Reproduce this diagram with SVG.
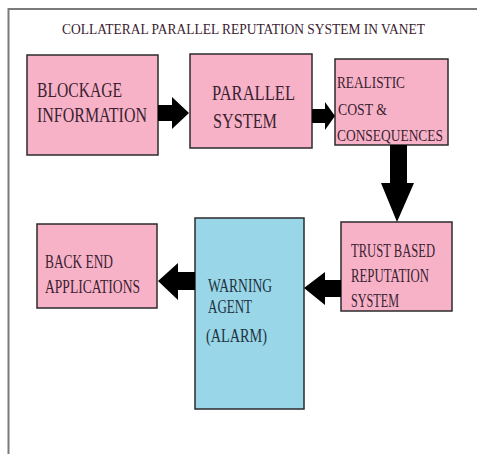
<svg xmlns="http://www.w3.org/2000/svg" width="477" height="454" viewBox="0 0 477 454">
<style>
.box{fill:#F8B2C8;stroke:#2b2b2b;stroke-width:1.5}
.blue{fill:#98D6E8;stroke:#2b2b2b;stroke-width:1.5}
.t{font-family:"Liberation Serif","Times New Roman",serif;fill:#3a2230}
.tb{font-family:"Liberation Serif","Times New Roman",serif;fill:#213340}
.arr{fill:#000}
</style>
<rect x="0" y="0" width="477" height="454" fill="#fff"/>
<path d="M8.5 454 V9 H477" fill="none" stroke="#7a7a7a" stroke-width="2"/>
<text class="t" x="62" y="34" font-size="15" textLength="363" lengthAdjust="spacingAndGlyphs" fill="#333">COLLATERAL PARALLEL REPUTATION SYSTEM IN VANET</text>
<g id="blockage">
<rect class="box" x="27" y="55" width="131" height="100"/>
<text class="t" x="37" y="97" font-size="21" textLength="85" lengthAdjust="spacingAndGlyphs">BLOCKAGE</text>
<text class="t" x="37" y="122" font-size="21" textLength="110" lengthAdjust="spacingAndGlyphs">INFORMATION</text>
</g>
<g id="parallel">
<rect class="box" x="190" y="54" width="122" height="94"/>
<text class="t" x="212" y="100" font-size="21" textLength="83" lengthAdjust="spacingAndGlyphs">PARALLEL</text>
<text class="t" x="213" y="128" font-size="21" textLength="64" lengthAdjust="spacingAndGlyphs">SYSTEM</text>
</g>
<g id="realistic">
<rect class="box" x="335" y="59" width="113" height="86"/>
<text class="t" x="337" y="88" font-size="17" textLength="68" lengthAdjust="spacingAndGlyphs">REALISTIC</text>
<text class="t" x="338" y="115" font-size="17" textLength="49" lengthAdjust="spacingAndGlyphs">COST &amp;</text>
<text class="t" x="337" y="141" font-size="17" textLength="106" lengthAdjust="spacingAndGlyphs">CONSEQUENCES</text>
</g>
<g id="trust">
<rect class="box" x="341" y="222" width="111" height="89"/>
<text class="t" x="351" y="257" font-size="18" textLength="84" lengthAdjust="spacingAndGlyphs">TRUST BASED</text>
<text class="t" x="351" y="282" font-size="18" textLength="78" lengthAdjust="spacingAndGlyphs">REPUTATION</text>
<text class="t" x="351" y="307" font-size="18" textLength="48" lengthAdjust="spacingAndGlyphs">SYSTEM</text>
</g>
<g id="warning">
<rect class="blue" x="195" y="218" width="109" height="191"/>
<text class="tb" x="208" y="292" font-size="19" textLength="64" lengthAdjust="spacingAndGlyphs">WARNING</text>
<text class="tb" x="208" y="313" font-size="19" textLength="44" lengthAdjust="spacingAndGlyphs">AGENT</text>
<text class="tb" x="206" y="342" font-size="19" textLength="61" lengthAdjust="spacingAndGlyphs">(ALARM)</text>
</g>
<g id="backend">
<rect class="box" x="37" y="224" width="120" height="84"/>
<text class="t" x="45" y="268" font-size="19" textLength="68" lengthAdjust="spacingAndGlyphs">BACK END</text>
<text class="t" x="45" y="293" font-size="19" textLength="95" lengthAdjust="spacingAndGlyphs">APPLICATIONS</text>
</g>
<g id="connectors">
<polygon class="arr" points="158,105 172,105 172,97 189,113 172,129 172,121 158,121"/>
<polygon class="arr" points="312,109 325,109 325,102 335,116 325,130 325,123 312,123"/>
<polygon class="arr" points="390,145 407,145 407,183 414,183 397,222 381,183 390,183"/>
<polygon class="arr" points="341,280 325,280 325,272 304,288 325,305 325,297 341,297"/>
<polygon class="arr" points="195,272 178,272 178,263 158,281 178,300 178,290 195,290"/>
</g>
</svg>
